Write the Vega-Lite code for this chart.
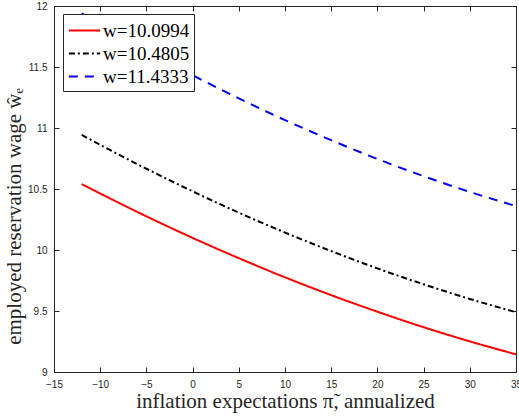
{
  "$schema": "https://vega.github.io/schema/vega-lite/v6.json",
  "width": 462,
  "height": 366,
  "autosize": {"type": "none"},
  "padding": {"left": 54, "top": 6, "right": 3, "bottom": 46},
  "background": "white",
  "config": {
    "view": {"stroke": "#262626", "strokeWidth": 1},
    "axis": {
      "grid": false,
      "domainColor": "#262626",
      "tickColor": "#262626",
      "labelColor": "#262626",
      "labelFont": "Liberation Sans",
      "labelFontSize": 10,
      "titleFont": "Liberation Serif",
      "titleFontSize": 21,
      "titleFontWeight": "normal",
      "titleColor": "#262626",
      "tickSize": -5
    }
  },
  "data": {
    "values": [
      {"pi": -12, "wage": 10.540, "series": "w=10.0994"},
      {"pi": -10, "wage": 10.463, "series": "w=10.0994"},
      {"pi": -5, "wage": 10.276, "series": "w=10.0994"},
      {"pi": 0, "wage": 10.099, "series": "w=10.0994"},
      {"pi": 5, "wage": 9.933, "series": "w=10.0994"},
      {"pi": 10, "wage": 9.776, "series": "w=10.0994"},
      {"pi": 15, "wage": 9.630, "series": "w=10.0994"},
      {"pi": 20, "wage": 9.494, "series": "w=10.0994"},
      {"pi": 25, "wage": 9.367, "series": "w=10.0994"},
      {"pi": 30, "wage": 9.251, "series": "w=10.0994"},
      {"pi": 35, "wage": 9.145, "series": "w=10.0994"},
      {"pi": -12, "wage": 10.943, "series": "w=10.4805"},
      {"pi": -10, "wage": 10.862, "series": "w=10.4805"},
      {"pi": -5, "wage": 10.666, "series": "w=10.4805"},
      {"pi": 0, "wage": 10.481, "series": "w=10.4805"},
      {"pi": 5, "wage": 10.306, "series": "w=10.4805"},
      {"pi": 10, "wage": 10.143, "series": "w=10.4805"},
      {"pi": 15, "wage": 9.991, "series": "w=10.4805"},
      {"pi": 20, "wage": 9.849, "series": "w=10.4805"},
      {"pi": 25, "wage": 9.719, "series": "w=10.4805"},
      {"pi": 30, "wage": 9.599, "series": "w=10.4805"},
      {"pi": 35, "wage": 9.490, "series": "w=10.4805"},
      {"pi": -12, "wage": 11.940, "series": "w=11.4333"},
      {"pi": -10, "wage": 11.851, "series": "w=11.4333"},
      {"pi": -5, "wage": 11.636, "series": "w=11.4333"},
      {"pi": 0, "wage": 11.433, "series": "w=11.4333"},
      {"pi": 5, "wage": 11.243, "series": "w=11.4333"},
      {"pi": 10, "wage": 11.065, "series": "w=11.4333"},
      {"pi": 15, "wage": 10.900, "series": "w=11.4333"},
      {"pi": 20, "wage": 10.746, "series": "w=11.4333"},
      {"pi": 25, "wage": 10.605, "series": "w=11.4333"},
      {"pi": 30, "wage": 10.476, "series": "w=11.4333"},
      {"pi": 35, "wage": 10.360, "series": "w=11.4333"}
    ]
  },
  "resolve": {"axis": {"x": "independent", "y": "independent"}},
  "layer": [
    {
      "mark": {"type": "line", "strokeWidth": 2, "interpolate": "monotone", "clip": true},
      "encoding": {
        "x": {
          "field": "pi", "type": "quantitative",
          "scale": {"domain": [-15, 35], "nice": false, "zero": false},
          "axis": {"orient": "bottom", "values": [-15, -10, -5, 0, 5, 10, 15, 20, 25, 30, 35], "format": "~g", "title": "inflation expectations π̃, annualized", "labelPadding": 12, "titlePadding": 1, "labelFlush": false}
        },
        "y": {
          "field": "wage", "type": "quantitative",
          "scale": {"domain": [9, 12], "nice": false, "zero": false},
          "axis": {"orient": "left", "values": [9, 9.5, 10, 10.5, 11, 11.5, 12], "format": "~g", "title": "employed reservation wage ŵₑ", "labelPadding": 12, "titleX": -30, "titleY": 210, "labelFlush": false}
        },
        "color": {
          "field": "series", "type": "nominal",
          "scale": {"domain": ["w=10.0994", "w=10.4805", "w=11.4333"], "range": ["#ff0000", "#000000", "#0000ff"]},
          "legend": {
            "title": null,
            "orient": "none",
            "legendX": 9,
            "legendY": 8,
            "padding": 4,
            "strokeColor": "#262626",
            "fillColor": "white",
            "labelFont": "Liberation Serif",
            "labelFontSize": 19,
            "labelColor": "#000000",
            "labelOffset": 6,
            "symbolOffset": 5,
            "symbolType": "M-1.4,0H1.4",
            "symbolSize": 500,
            "symbolStrokeWidth": 2,
            "rowPadding": 0
          }
        },
        "strokeDash": {
          "field": "series", "type": "nominal",
          "scale": {"domain": ["w=10.0994", "w=10.4805", "w=11.4333"], "range": [[1, 0], [6, 3, 2, 3], [9, 7]]},
          "legend": {"title": null}
        }
      }
    },
    {
      "mark": {"type": "point", "opacity": 0},
      "encoding": {
        "x": {
          "field": "pi", "type": "quantitative",
          "scale": {"domain": [-15, 35], "nice": false, "zero": false},
          "axis": {"orient": "top", "values": [-15, -10, -5, 0, 5, 10, 15, 20, 25, 30, 35], "labels": false, "title": null}
        },
        "y": {
          "field": "wage", "type": "quantitative",
          "scale": {"domain": [9, 12], "nice": false, "zero": false},
          "axis": {"orient": "right", "values": [9, 9.5, 10, 10.5, 11, 11.5, 12], "labels": false, "title": null}
        }
      }
    }
  ]
}
